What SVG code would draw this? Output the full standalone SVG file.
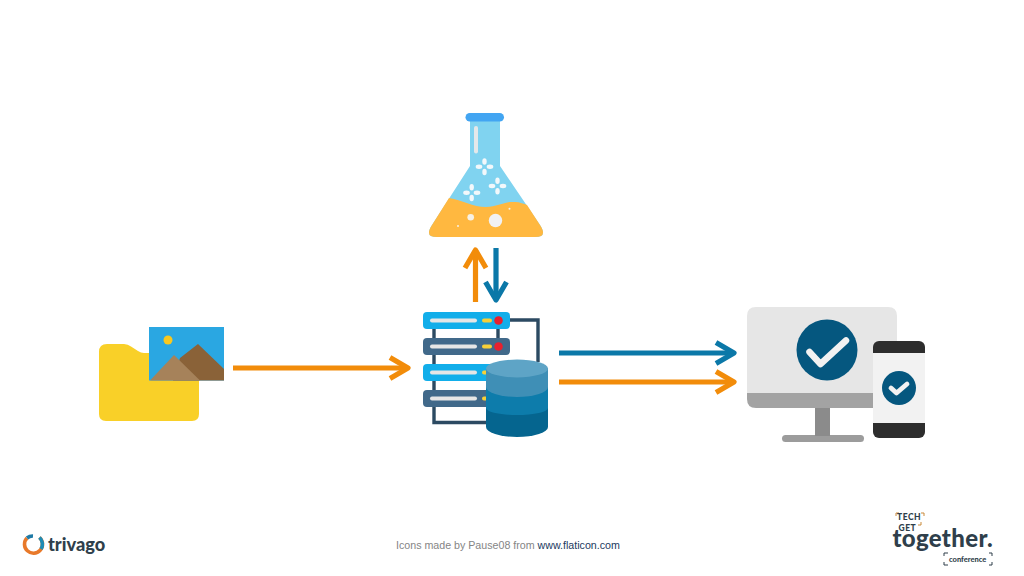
<svg xmlns="http://www.w3.org/2000/svg" width="1024" height="576" viewBox="0 0 1024 576">
<style>
.ln{fill:none;stroke-width:5.200}
.or{stroke:#f28c0a}
.bl{stroke:#0b78a8}
.frame{fill:none;stroke:#2c4a62;stroke-width:3.400}
.bar{fill:#e6e6e6}
.mk{fill:none;stroke-width:5.200;stroke-linecap:butt;stroke-linejoin:round}
.chk{fill:none;stroke:#f2f2f2;stroke-linecap:round;stroke-linejoin:round}
text{font-family:"Liberation Sans",Arial,sans-serif}
.logo{font-family:Lato,"Open Sans",sans-serif;font-weight:900;fill:#2f3f4b}
</style>
<defs>
<marker id="ao" markerUnits="userSpaceOnUse" markerWidth="40" markerHeight="40" refX="20" refY="20" orient="auto" viewBox="0 0 40 40"><path class="mk or" d="M2,9.500 L20,20 L2,30.500"/></marker>
<marker id="ab" markerUnits="userSpaceOnUse" markerWidth="40" markerHeight="40" refX="20" refY="20" orient="auto" viewBox="0 0 40 40"><path class="mk bl" d="M2,9.500 L20,20 L2,30.500"/></marker>
</defs>
<rect width="1024" height="576" fill="#fff"/>

<g id="flask">
<path d="M470,119H500V166L540,225Q548,237 535,237H437Q424,237 432,225L470,166Z" fill="#80d3f0"/>
<path d="M449,198C462,200 473,207 486,207C498,207 505,201 515,202C520,202 524,204 527,205L540,225Q548,237 535,237H437Q424,237 432,225Z" fill="#ffb840"/>
<rect x="465.500" y="113" width="38.500" height="8.500" rx="4.250" fill="#42a5f2"/>
<rect x="474" y="126" width="4" height="27.500" rx="2" fill="#e4e8ea"/>
<g fill="#f2f8fb">
<ellipse cx="484.500" cy="161.500" rx="2.200" ry="3.300"/><ellipse cx="484.500" cy="172" rx="2.200" ry="3.300"/><ellipse cx="479" cy="166.700" rx="3.300" ry="2.200"/><ellipse cx="490" cy="166.700" rx="3.300" ry="2.200"/>
<ellipse cx="497.500" cy="180.700" rx="2.200" ry="3.300"/><ellipse cx="497.500" cy="191.300" rx="2.200" ry="3.300"/><ellipse cx="492" cy="186" rx="3.300" ry="2.200"/><ellipse cx="503" cy="186" rx="3.300" ry="2.200"/>
<ellipse cx="471.700" cy="187.300" rx="2.200" ry="3.300"/><ellipse cx="471.700" cy="198" rx="2.200" ry="3.300"/><ellipse cx="466.500" cy="192.700" rx="3.300" ry="2.200"/><ellipse cx="477" cy="192.700" rx="3.300" ry="2.200"/>
</g>
<circle cx="495.500" cy="220.500" r="6.700" fill="#f1f1f4"/>
<circle cx="470.700" cy="217.300" r="3.300" fill="#f7f1e4"/>
<circle cx="509.500" cy="208.700" r="1" fill="#f7f1e4"/>
<circle cx="458" cy="226" r="1" fill="#f7f1e4"/>
</g>

<g id="server">
<path class="frame" d="M505,320H538V362M434,329V338M434,355V364M434,381V390M434,406V422.500H488M498,329V338"/>
<rect x="423" y="312" width="87" height="17" rx="4" fill="#12aeea"/>
<rect x="423" y="338" width="87" height="17" rx="4" fill="#41698a"/>
<rect x="423" y="364" width="87" height="17" rx="4" fill="#12aeea"/>
<rect x="423" y="390" width="87" height="17" rx="4" fill="#41698a"/>
<rect class="bar" x="430" y="318.500" width="47" height="4" rx="2"/>
<rect class="bar" x="430" y="344.500" width="47" height="4" rx="2"/>
<rect class="bar" x="430" y="370.500" width="47" height="4" rx="2"/>
<rect class="bar" x="430" y="396.500" width="47" height="4" rx="2"/>
<rect x="482" y="318.500" width="10" height="4" rx="2" fill="#f7d038"/>
<rect x="482" y="344.500" width="10" height="4" rx="2" fill="#f7d038"/>
<rect x="482" y="370.500" width="10" height="4" rx="2" fill="#f7d038"/>
<rect x="482" y="396.500" width="10" height="4" rx="2" fill="#f7d038"/>
<circle cx="498.500" cy="320.500" r="4.300" fill="#e8202e"/>
<circle cx="498.500" cy="346.500" r="4.300" fill="#e8202e"/>
</g>

<g id="database">
<path d="M486,368.500V427A31,10 0 0 0 548,427V368.500Z" fill="#05658f"/>
<path d="M486,368.500V408A31,7 0 0 0 548,408V368.500Z" fill="#0d7cab"/>
<path d="M486,368.500V387A31,10 0 0 0 548,387V368.500Z" fill="#3f8fb6"/>
<ellipse cx="517" cy="368.500" rx="31" ry="9" fill="#5ea4c6"/>
</g>

<g id="folder">
<path d="M107,344H124Q128,344 131,346.500L138,351Q141,353 144,353H193Q199,353 199,359V414Q199,421 192,421H106Q99,421 99,414V352Q99,344 107,344Z" fill="#f9d028"/>
<rect x="149" y="327" width="75" height="53.500" fill="#2aa7e2"/>
<circle cx="168" cy="340" r="4.500" fill="#f9c81e"/>
<path d="M180,358L198,344L224,369V380.500H173Z" fill="#8a6238"/>
<path d="M150,380.500L174,355L200,380.500Z" fill="#a6825a"/>
</g>

<g id="devices">
<rect x="782" y="435" width="82" height="7" rx="3.500" fill="#9c9c9c"/>
<rect x="815" y="406" width="15" height="30" fill="#8b8b8b"/>
<path d="M747,393H897V399Q897,408 888,408H756Q747,408 747,399Z" fill="#a3a3a3"/>
<path d="M756,307H888Q897,307 897,316V393H747V316Q747,307 756,307Z" fill="#e6e6e6"/>
<circle cx="827" cy="350" r="30.500" fill="#05577f"/>
<path class="chk" stroke-width="6.500" d="M809.500,352L820.500,364L846,340.500"/>
<rect x="873" y="341" width="52" height="97" rx="6" fill="#2d2d2d"/>
<rect x="873" y="353" width="52" height="70" fill="#f2f2f2"/>
<circle cx="899" cy="388" r="17" fill="#05577f"/>
<path class="chk" stroke-width="4.800" d="M891,388L896.500,393L907,384"/>
</g>

<g id="connectors">
<line class="ln or" x1="233" y1="368" x2="408" y2="368" marker-end="url(#ao)"/>
<line class="ln bl" x1="559" y1="353" x2="734" y2="353" marker-end="url(#ab)"/>
<line class="ln or" x1="559" y1="382" x2="734" y2="382" marker-end="url(#ao)"/>
<line class="ln or" x1="475.500" y1="302" x2="475.500" y2="250" marker-end="url(#ao)"/>
<line class="ln bl" x1="496" y1="248" x2="496" y2="300" marker-end="url(#ab)"/>
</g>

<g id="trivago-logo">
<path d="M39.500,537.500A9,9 0 1 1 27,538" fill="none" stroke="#e8792a" stroke-width="3.600"/>
<path d="M39.500,537.500A9,9 0 0 1 41,549" fill="none" stroke="#1f8cb4" stroke-width="3.600"/>
<path d="M27,538A9,9 0 0 1 33,536" fill="none" stroke="#1f7aa6" stroke-width="3.600"/>
<text class="logo" x="48" y="550.500" font-size="18.200">trivago</text>
</g>

<g id="together-logo">
<path d="M896,516V513H899M921,513H924V516M918,525H921V522" fill="none" stroke="#c98a3a" stroke-width="1"/>
<text class="logo" x="897" y="520" font-size="8.500" letter-spacing="0.500">TECH</text>
<text class="logo" x="898.500" y="531" font-size="8.500" letter-spacing="0.500">GET</text>
<text class="logo" x="892.500" y="547" font-size="24" letter-spacing="0.350">together.</text>
<path d="M944,556V553H948M989,553H992V556M944,562V565H948M989,565H992V562" fill="none" stroke="#2f3f4b" stroke-width="1"/>
<text class="logo" x="949" y="562" font-size="7.500" font-weight="700">conference</text>
</g>

<text id="credit" x="396" y="549" font-size="10.670" fill="#858585">Icons made by Pause08 from <tspan fill="#1b3a5e">www.flaticon.com</tspan></text>
</svg>
